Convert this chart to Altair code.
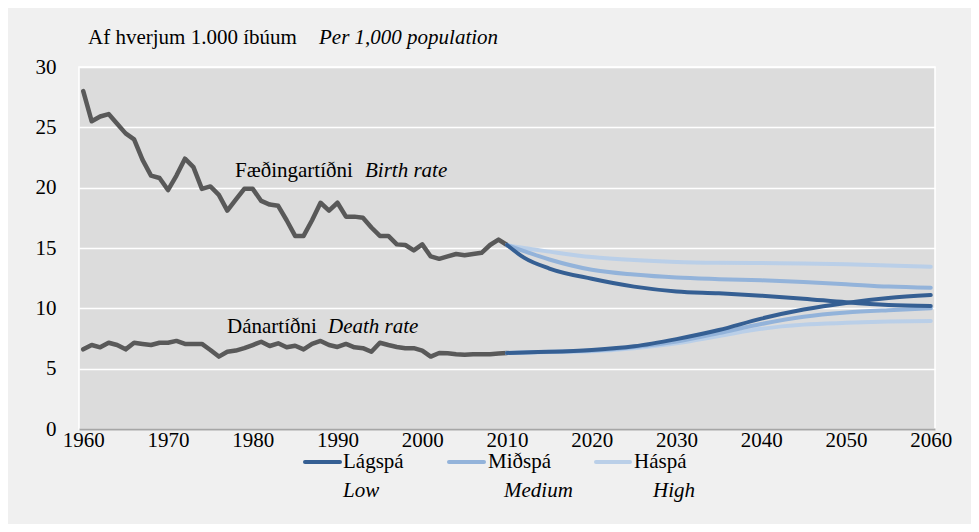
import altair as alt
import pandas as pd

FONT = "Liberation Serif"

# ---------------- data ----------------
hist_years = list(range(1960, 2011))
birth_hist = [28.0, 25.5, 25.9, 26.1, 25.3, 24.5, 24.0, 22.3, 21.0, 20.8,
              19.8, 21.0, 22.4, 21.7, 19.9, 20.1, 19.4, 18.1, 19.0, 19.9,
              19.9, 18.9, 18.6, 18.5, 17.3, 16.0, 16.0, 17.3, 18.75, 18.1,
              18.75, 17.6, 17.6, 17.5, 16.7, 16.0, 16.0, 15.3, 15.25, 14.8,
              15.3, 14.3, 14.1, 14.3, 14.5, 14.4, 14.5, 14.6, 15.25, 15.7,
              15.25]
death_hist = [6.6, 6.96, 6.77, 7.15, 6.96, 6.6, 7.15, 7.05, 6.96, 7.15,
              7.15, 7.3, 7.05, 7.05, 7.05, 6.55, 6.0, 6.4, 6.5, 6.7,
              6.96, 7.23, 6.88, 7.1, 6.77, 6.9, 6.6, 7.05, 7.3, 6.96,
              6.8, 7.05, 6.77, 6.7, 6.4, 7.15, 6.96, 6.8, 6.7, 6.7,
              6.5, 6.0, 6.3, 6.27, 6.2, 6.15, 6.2, 6.2, 6.2, 6.25,
              6.3]

proj_years = [2010, 2012, 2015, 2020, 2025, 2030, 2035, 2040, 2045, 2050, 2055, 2060]
birth_low = [15.25, 14.2, 13.3, 12.45, 11.8, 11.4, 11.25, 11.05, 10.8, 10.5, 10.28, 10.2]
birth_med = [15.25, 14.75, 14.05, 13.2, 12.8, 12.55, 12.42, 12.32, 12.18, 12.0, 11.8, 11.7]
birth_high = [15.25, 15.0, 14.7, 14.25, 14.0, 13.85, 13.78, 13.75, 13.72, 13.65, 13.55, 13.45]
death_low = [6.3, 6.35, 6.4, 6.55, 6.85, 7.45, 8.2, 9.15, 9.9, 10.45, 10.85, 11.1]
death_med = [6.3, 6.35, 6.4, 6.5, 6.8, 7.25, 7.95, 8.7, 9.3, 9.65, 9.85, 10.0]
death_high = [6.3, 6.33, 6.38, 6.45, 6.7, 7.1, 7.7, 8.3, 8.65, 8.8, 8.9, 8.95]

scenario_names = ["Lágspá", "Miðspá", "Háspá"]
scenario_en = ["Low", "Medium", "High"]
scenario_colors = ["#355F93", "#93B3DA", "#BACFE8"]
hist_color = "#595959"

x_ticks = list(range(1960, 2061, 10))
y_ticks = [0, 5, 10, 15, 20, 25, 30]

# ---------------- tables ----------------
hist_df = pd.DataFrame({
    "year": hist_years * 2,
    "value": birth_hist + death_hist,
    "measure": ["birth"] * len(hist_years) + ["death"] * len(hist_years),
})

proj_sets = {
    "Lágspá": (birth_low, death_low),
    "Miðspá": (birth_med, death_med),
    "Háspá": (birth_high, death_high),
}

x_scale = alt.Scale(domain=[1959.5, 2060.5], nice=False, zero=False)
y_scale = alt.Scale(domain=[0, 30], nice=False)

x_enc = alt.X("year:Q", scale=x_scale, axis=alt.Axis(
    values=x_ticks, format="d", grid=False, ticks=False, tickSize=0,
    labelPadding=0, labelFontSize=21, labelFont=FONT, labelColor="black",
    domainColor="#A6A6A6", domainWidth=2, title=None, labelFlush=False))
y_enc = alt.Y("value:Q", scale=y_scale, axis=alt.Axis(
    values=y_ticks, grid=True, gridColor="white", gridWidth=1.5,
    domain=False, ticks=False, tickSize=0, labelPadding=23,
    labelFontSize=21, labelFont=FONT, labelColor="black", title=None))

layers = []
hist_layer = alt.Chart(hist_df).mark_line(
    color=hist_color, strokeWidth=4.5, strokeCap="round", strokeJoin="round"
).encode(x=x_enc, y=y_enc, detail="measure:N")
layers.append(hist_layer)

# draw High first, Low last (on top)
for name in ["Háspá", "Miðspá", "Lágspá"]:
    b, d = proj_sets[name]
    color = scenario_colors[scenario_names.index(name)]
    df = pd.DataFrame({
        "year": proj_years * 2,
        "value": b + d,
        "measure": ["birth"] * len(proj_years) + ["death"] * len(proj_years),
    })
    layers.append(alt.Chart(df).mark_line(
        color=color, strokeWidth=4, strokeCap="round", interpolate="monotone"
    ).encode(x=alt.X("year:Q", scale=x_scale),
             y=alt.Y("value:Q", scale=y_scale),
             detail="measure:N"))

one = pd.DataFrame({"a": [0]})


def label(text, x, y, italic=False, size=21):
    return alt.Chart(one).mark_text(
        font=FONT, fontSize=size, fontStyle="italic" if italic else "normal",
        align="left", baseline="middle", color="black"
    ).encode(x=alt.value(x), y=alt.value(y), text=alt.value(text))


# title (above plot)
layers.append(label("Af hverjum 1.000 íbúum", 9, -29))
layers.append(label("Per 1,000 population", 240, -29, italic=True))
# annotations
layers.append(label("Fæðingartíðni", 156, 104))
layers.append(label("Birth rate", 286, 104, italic=True))
layers.append(label("Dánartíðni", 148, 260))
layers.append(label("Death rate", 249, 260, italic=True))

# legend
leg_line_x = [(226, 261), (370, 405), (517, 551)]
leg_text_x = [264, 409, 555]
leg_en_x = [264, 425, 574]
for i in range(3):
    x1, x2 = leg_line_x[i]
    layers.append(alt.Chart(one).mark_rule(
        color=scenario_colors[i], strokeWidth=4, strokeCap="round"
    ).encode(x=alt.value(x1), x2=alt.value(x2), y=alt.value(395)))
    layers.append(label(scenario_names[i], leg_text_x[i], 395))
    layers.append(label(scenario_en[i], leg_en_x[i], 424, italic=True))

chart = alt.layer(*layers).properties(
    width=856, height=362,
    autosize=alt.AutoSizeParams(type="none"),
    padding={"left": 71, "top": 59, "right": 36, "bottom": 95},
    background="#F0F0F0",
).configure_view(
    fill="#DCDCDC", stroke="white", strokeWidth=1.5
)

chart.save("out.html", embed_options={"renderer": "svg", "actions": False})
